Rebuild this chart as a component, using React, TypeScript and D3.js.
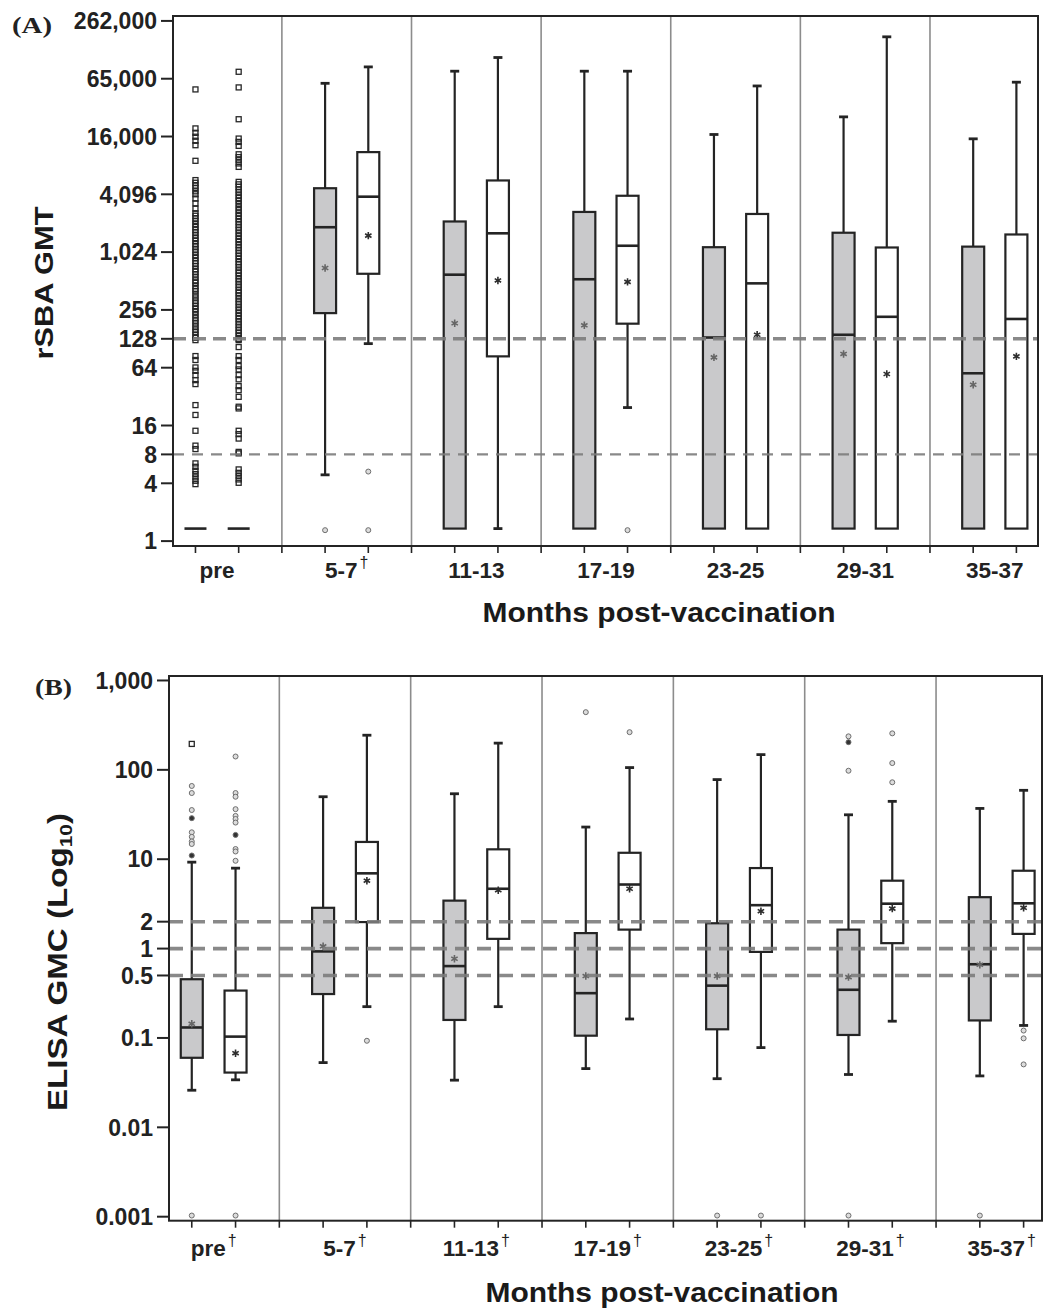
import * as d3 from 'd3';

const FONT = "'Liberation Sans', Arial, Helvetica, sans-serif";
const SERIF = "'Liberation Serif', 'Times New Roman', serif";
const BOX_W = 22;
const CAP_W = 9;
const GREY = '#c9c9cb';
const INK = '#242424';

// ---------- panel A : rSBA GMT ----------
const A_GROUPS = ['pre', '5-7', '11-13', '17-19', '23-25', '29-31', '35-37'];
const A_DAGGER = [false, true, false, false, false, false, false];
const A_TICKS = [1, 4, 8, 16, 64, 128, 256, 1024, 4096, 16384, 65536, 262144];
const A_TICK_LABELS = ['1', '4', '8', '16', '64', '128', '256', '1,024', '4,096', '16,000', '65,000', '262,000'];
const A_REF = [128, 8];

// each entry: [grey box, white box]
const A_HI = [[1.35, 1.35], [58700, 87000], [78500, 109000], [78500, 78500], [17200, 55100], [26250, 179000], [15500, 60300]];
const A_Q3 = [[1.35, 1.35], [4740, 11270], [2135, 5710], [2684, 3956], [1152, 2556], [1630, 1144], [1168, 1563]];
const A_MED = [[1.35, 1.35], [1860, 3870], [596, 1607], [534, 1193], [132, 484], [141, 217], [56, 206]];
const A_Q1 = [[1.35, 1.35], [237, 609], [1.35, 84], [1.35, 184], [1.35, 1.35], [1.35, 1.35], [1.35, 1.35]];
const A_LO = [[1.35, 1.35], [4.9, 114], [1.35, 1.35], [1.35, 24.6], [1.35, 1.35], [1.35, 1.35], [1.35, 1.35]];
const A_MEAN: (number | null)[][] = [[null, null], [700, 1520], [186, 519], [177, 501], [82, 141], [89, 55], [42.5, 84]];

const A_PRE_GREY = [
  50700, 19900, 17900, 16300, 14800, 13300, 9150,
  5760, 5400, 5050, 4750, 4400, 4100, 3700, 3300, 2900,
  2600, 2450, 2300, 2150, 2000, 1870, 1750, 1640, 1530, 1430, 1340, 1250, 1170, 1090, 1020,
  950, 890, 830, 780, 730, 680, 640, 600, 560, 520, 490, 455, 425, 400, 370, 345, 320, 300,
  280, 262, 245, 228, 212, 198, 185, 172, 160, 150, 140, 131, 124,
  84.6, 77, 64.4, 59.4, 53.6, 47.5, 43.2, 26.1, 20.6, 14.1, 9.87, 9.09,
  6.45, 5.94, 5.4, 4.99, 4.61, 4.25, 3.92,
];
const A_PRE_WHITE = [
  77400, 53200, 24800, 15600, 14400, 13100, 10700, 10000, 9280, 8590, 7910,
  5520, 5200, 4900, 4600, 4300, 4000, 3750, 3500, 3250, 3000, 2800, 2600, 2430, 2270,
  2120, 1980, 1850, 1730, 1610, 1500, 1400, 1310, 1220, 1140, 1065, 995, 930, 870, 810,
  760, 710, 660, 620, 580, 540, 505, 470, 440, 410, 385, 360, 335, 312, 292, 272, 254,
  237, 221, 207, 193, 180, 168, 157, 147, 137, 128, 124,
  105, 84.5, 77, 66.5, 61.4, 53.6, 48.4, 41.1, 37.3, 31.8, 25.1, 24.1, 14.1, 13, 11.7,
  8.5, 8.2, 5.58, 5.14, 4.76, 4.39, 4.05,
];
const A_OUTLIERS = [
  [A_PRE_GREY, A_PRE_WHITE],
  [[1.3], [5.3, 1.3]],
  [[], []],
  [[], [1.3]],
  [[], []],
  [[], []],
  [[], []],
];

// ---------- panel B : ELISA GMC ----------
const B_GROUPS = ['pre', '5-7', '11-13', '17-19', '23-25', '29-31', '35-37'];
const B_DAGGER = [true, true, true, true, true, true, true];
const B_TICKS = [0.001, 0.01, 0.1, 0.5, 1, 2, 10, 100, 1000];
const B_TICK_LABELS = ['0.001', '0.01', '0.1', '0.5', '1', '2', '10', '100', '1,000'];
const B_REF = [2, 1, 0.5];

const B_HI = [[9.27, 7.94], [50, 244], [54, 199], [22.9, 106], [77.8, 148], [31.4, 44.4], [37, 59]];
const B_Q3 = [[0.454, 0.339], [2.86, 15.6], [3.44, 12.9], [1.49, 11.8], [1.92, 7.96], [1.63, 5.75], [3.76, 7.43]];
const B_MED = [[0.131, 0.1035], [0.93, 6.95], [0.637, 4.67], [0.317, 5.21], [0.385, 3.06], [0.346, 3.18], [0.668, 3.21]];
const B_Q1 = [[0.06, 0.041], [0.31, 1.98], [0.159, 1.285], [0.106, 1.63], [0.125, 0.918], [0.108, 1.15], [0.157, 1.46]];
const B_LO = [[0.026, 0.034], [0.053, 0.224], [0.0337, 0.224], [0.0454, 0.163], [0.035, 0.078], [0.039, 0.154], [0.0376, 0.138]];
const B_MEAN: (number | null)[][] = [[0.144, 0.0675], [1.06, 5.75], [0.769, 4.5], [0.493, 4.67], [0.493, 2.62], [0.479, 2.8], [0.658, 2.86]];
const B_OUTLIERS = [
  [[195, 66, 55, 35.5, 28.8, 20, 17.8, 15.8, 14.8, 11, 0.00103], [141, 55, 50, 36.3, 30.5, 28.2, 25.7, 18.7, 13, 12.2, 9.6, 0.00103]],
  [[], [0.093]],
  [[], []],
  [[442], [264]],
  [[0.00103], [0.00103]],
  [[237, 204, 97.7, 0.00103], [256, 119, 72.6]],
  [[0.00103], [0.121, 0.099, 0.0506]],
];
const B_SOLID = [28.8, 11, 18.7, 204];
const B_SQUARE = [195];

type PanelProps = {
  x: d3.ScaleLinear<number, number>;
  y: d3.ScaleLogarithmic<number, number>;
  groups: string[];
  daggers: boolean[];
  ticks: number[];
  tickLabels: string[];
  refs: number[];
  refStyle: (i: number) => { w: number; dash: string };
  hi: number[][];
  q3: number[][];
  med: number[][];
  q1: number[][];
  lo: number[][];
  mean: (number | null)[][];
  outliers: number[][][];
  marker: (g: number, v: number) => 'square' | 'solid' | 'circle';
  labelY: number;
};

const asterisk = d3.symbol().type(d3.symbolAsterisk).size(38)() || '';

function Panel(p: PanelProps) {
  const { x, y } = p;
  const [x0, x1] = x.range();
  const [yb, yt] = y.range();
  const nSlots = p.groups.length * 3 - 1;
  const slots = d3.range(nSlots);
  const seps = p.groups.slice(1).map((_, g) => 3 * g + 2);

  const boxes: JSX.Element[] = [];
  const points: JSX.Element[] = [];
  p.groups.forEach((_, g) => {
    [0, 1].forEach((s) => {
      const cx = x(3 * g + s);
      const yq1 = y(p.q1[g][s]);
      const yq3 = y(p.q3[g][s]);
      const ymd = y(p.med[g][s]);
      const yhi = y(p.hi[g][s]);
      const ylo = y(p.lo[g][s]);
      const k = `${g}-${s}`;
      boxes.push(
        <g key={k} stroke={INK} strokeWidth={2.2}>
          {yhi < yq3 - 0.5 && (
            <>
              <line x1={cx} x2={cx} y1={yq3} y2={yhi} />
              <line x1={cx - CAP_W / 2} x2={cx + CAP_W / 2} y1={yhi} y2={yhi} strokeWidth={2.8} />
            </>
          )}
          {ylo > yq1 + 0.5 && (
            <>
              <line x1={cx} x2={cx} y1={yq1} y2={ylo} />
              <line x1={cx - CAP_W / 2} x2={cx + CAP_W / 2} y1={ylo} y2={ylo} strokeWidth={2.8} />
            </>
          )}
          {yq1 - yq3 > 0.5 && (
            <rect x={cx - BOX_W / 2} y={yq3} width={BOX_W} height={yq1 - yq3} fill={s === 0 ? GREY : '#fff'} />
          )}
          <line x1={cx - BOX_W / 2} x2={cx + BOX_W / 2} y1={ymd} y2={ymd} strokeWidth={2.6} />
        </g>
      );
      const m = p.mean[g][s];
      if (m != null) {
        points.push(
          <path key={'m' + k} d={asterisk} transform={`translate(${cx},${y(m)})`} stroke={s === 0 ? '#666' : '#2e2e2e'} strokeWidth={1.6} fill="none" />
        );
      }
      p.outliers[g][s].forEach((v, i) => {
        const kind = p.marker(g, v);
        const cy = y(v);
        if (kind === 'square') {
          points.push(<rect key={`o${k}-${i}`} x={cx - 2.5} y={cy - 2.5} width={5} height={5} fill="none" stroke="#262626" strokeWidth={1.3} />);
        } else {
          points.push(
            <circle key={`o${k}-${i}`} cx={cx} cy={cy} r={2.5} fill={kind === 'solid' ? '#333' : '#dcdcdc'} stroke="#6e6e6e" strokeWidth={1} />
          );
        }
      });
    });
  });

  return (
    <g>
      {seps.map((s) => (
        <line key={'sep' + s} x1={x(s)} x2={x(s)} y1={yt} y2={yb} stroke="#8c8c8c" strokeWidth={1.6} />
      ))}
      {boxes}
      {points}
      {p.refs.map((r, i) => {
        const st = p.refStyle(i);
        return (
          <line key={'ref' + r} x1={x0} x2={x1} y1={y(r)} y2={y(r)} stroke="#7c7c7c" strokeOpacity={0.9} strokeWidth={st.w} strokeDasharray={st.dash} />
        );
      })}
      <rect x={x0} y={yt} width={x1 - x0} height={yb - yt} fill="none" stroke={INK} strokeWidth={2} />
      {/* y axis */}
      {p.ticks.map((t, i) => (
        <g key={'yt' + t}>
          <line x1={x0 - 12} x2={x0} y1={y(t)} y2={y(t)} stroke={INK} strokeWidth={2} />
          <text x={x0 - 16} y={y(t)} dy="0.36em" textAnchor="end" fontFamily={FONT} fontWeight="bold" fontSize={23} fill="#222">
            {p.tickLabels[i]}
          </text>
        </g>
      ))}
      {/* x axis */}
      {slots.map((s) => (
        <line key={'xt' + s} x1={x(s)} x2={x(s)} y1={yb} y2={yb + 7} stroke={INK} strokeWidth={1.6} />
      ))}
      {p.groups.map((g, i) => (
        <text key={'xl' + g} x={x(3 * i + 0.5)} y={p.labelY} textAnchor="middle" fontFamily={FONT} fontWeight="bold" fontSize={22.5} fill="#222">
          {g}
          {p.daggers[i] && (
            <tspan fontSize={16} dx={2} dy={-10} fontWeight="normal">
              †
            </tspan>
          )}
        </text>
      ))}
    </g>
  );
}

export default function App() {
  const xA = d3.scaleLinear().domain([-0.52, 19.5]).range([173, 1038]);
  const yA = d3.scaleLog().base(2).domain([0.889, 295000]).range([546, 16]);
  const xB = d3.scaleLinear().domain([-0.52, 19.42]).range([169, 1042]);
  const yB = d3.scaleLog().domain([0.000902, 1122]).range([1220.7, 676]);

  return (
    <svg width={1050} height={1313} style={{ position: 'absolute', left: 0, top: 0, background: '#fff' }}>
      <rect width={1050} height={1313} fill="#fff" />
      <Panel
        x={xA}
        y={yA}
        groups={A_GROUPS}
        daggers={A_DAGGER}
        ticks={A_TICKS}
        tickLabels={A_TICK_LABELS}
        refs={A_REF}
        refStyle={(i) => (i === 0 ? { w: 3.6, dash: '13 7' } : { w: 2.3, dash: '11 8' })}
        hi={A_HI}
        q3={A_Q3}
        med={A_MED}
        q1={A_Q1}
        lo={A_LO}
        mean={A_MEAN}
        outliers={A_OUTLIERS}
        marker={(g) => (g === 0 ? 'square' : 'circle')}
        labelY={578}
      />
      <Panel
        x={xB}
        y={yB}
        groups={B_GROUPS}
        daggers={B_DAGGER}
        ticks={B_TICKS}
        tickLabels={B_TICK_LABELS}
        refs={B_REF}
        refStyle={() => ({ w: 3.6, dash: '14 8' })}
        hi={B_HI}
        q3={B_Q3}
        med={B_MED}
        q1={B_Q1}
        lo={B_LO}
        mean={B_MEAN}
        outliers={B_OUTLIERS}
        marker={(_, v) => (B_SQUARE.includes(v) ? 'square' : B_SOLID.includes(v) ? 'solid' : 'circle')}
        labelY={1256}
      />

      {/* panel letters */}
      <text x={12} y={33} fontFamily={SERIF} fontWeight="bold" fontSize={24} textLength={40} lengthAdjust="spacingAndGlyphs" fill="#222">
        (A)
      </text>
      <text x={35} y={695} fontFamily={SERIF} fontWeight="bold" fontSize={24} textLength={37} lengthAdjust="spacingAndGlyphs" fill="#222">
        (B)
      </text>

      {/* axis titles */}
      <text x={659} y={622} textAnchor="middle" fontFamily={FONT} fontWeight="bold" fontSize={28} textLength={353} lengthAdjust="spacingAndGlyphs" fill="#1a1a1a">
        Months post-vaccination
      </text>
      <text x={662} y={1302} textAnchor="middle" fontFamily={FONT} fontWeight="bold" fontSize={28} textLength={353} lengthAdjust="spacingAndGlyphs" fill="#1a1a1a">
        Months post-vaccination
      </text>
      <text transform="translate(53,283) rotate(-90)" textAnchor="middle" fontFamily={FONT} fontWeight="bold" fontSize={25} textLength={153} lengthAdjust="spacingAndGlyphs" fill="#1a1a1a">
        rSBA GMT
      </text>
      <text transform="translate(67,962) rotate(-90)" textAnchor="middle" fontFamily={FONT} fontWeight="bold" fontSize={27} textLength={298} lengthAdjust="spacingAndGlyphs" fill="#1a1a1a">
        ELISA GMC (Log
        <tspan fontSize={17} dy={5}>10</tspan>
        <tspan dy={-5}>)</tspan>
      </text>
    </svg>
  );
}
